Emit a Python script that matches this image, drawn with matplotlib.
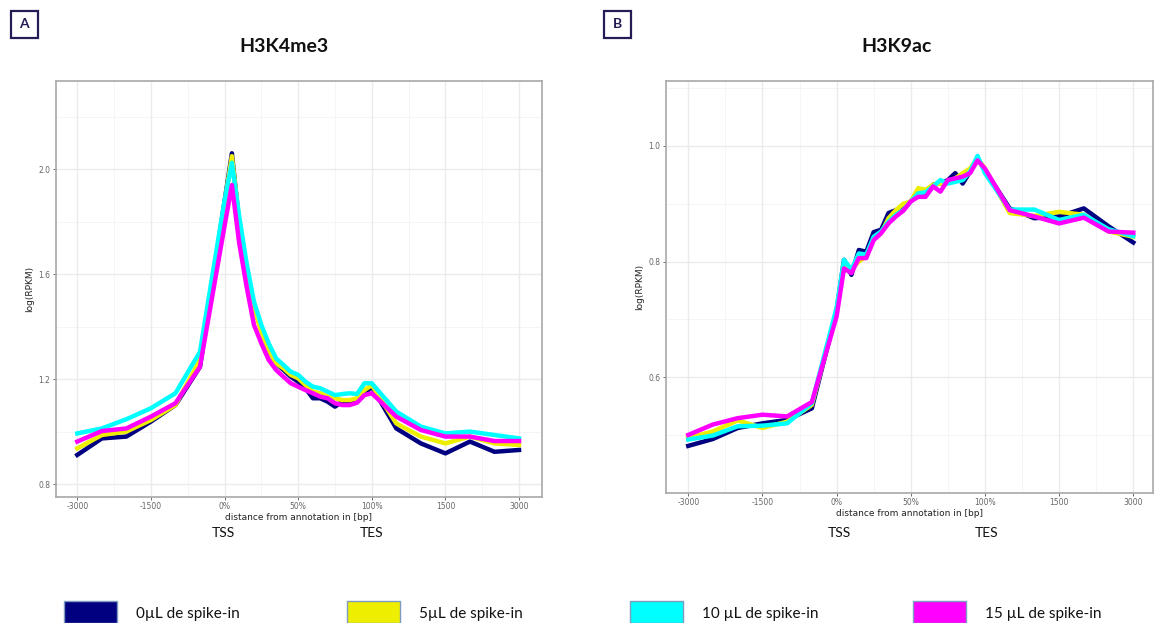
import matplotlib.pyplot as plt
from matplotlib.patches import Rectangle

W, H = 1157, 623

# bin positions in tick units (-3000 .. TSS .. TES .. +3000)
bins = [0, 1/3, 2/3, 1, 4/3, 5/3,
        2.0, 2.1, 2.2, 2.3, 2.4, 2.5, 2.6, 2.7, 2.8, 2.9, 3.0,
        3.1, 3.2, 3.3, 3.4, 3.5, 3.6, 3.7, 3.8, 3.9, 4.0,
        13/3, 14/3, 5, 16/3, 17/3, 6]
tick_pos = [0, 1, 2, 3, 4, 5, 6]
tick_labels = ["-3000", "-1500", "0%", "50%", "100%", "1500", "3000"]

samples = ["0µL de spike-in", "5µL de spike-in", "10 µL de spike-in", "15 µL de spike-in"]
colors = ["#000080", "#EEEE00", "#00FFFF", "#FF00FF"]

# H3K4me3
k4_0 = [0.912, 0.975, 0.982, 1.039, 1.102, 1.248,
        1.877, 2.061, 1.794, 1.617, 1.477, 1.388, 1.312, 1.261, 1.236, 1.210, 1.191,
        1.166, 1.128, 1.128, 1.115, 1.096, 1.115, 1.115, 1.121, 1.147, 1.172,
        1.013, 0.956, 0.918, 0.963, 0.924, 0.931]
k4_5 = [0.937, 0.988, 1.001, 1.045, 1.102, 1.274,
        1.870, 2.050, 1.800, 1.617, 1.477, 1.380, 1.312, 1.261, 1.242, 1.217, 1.204,
        1.178, 1.153, 1.147, 1.134, 1.128, 1.121, 1.121, 1.128, 1.159, 1.178,
        1.032, 0.982, 0.956, 0.982, 0.956, 0.950]
k4_10 = [0.994, 1.013, 1.048, 1.090, 1.147, 1.305,
         1.880, 2.025, 1.820, 1.642, 1.496, 1.407, 1.337, 1.280, 1.255, 1.229, 1.217,
         1.191, 1.172, 1.166, 1.153, 1.140, 1.144, 1.147, 1.144, 1.185, 1.185,
         1.077, 1.020, 0.994, 1.001, 0.988, 0.975]
k4_15 = [0.963, 1.003, 1.013, 1.058, 1.109, 1.248,
         1.784, 1.940, 1.718, 1.553, 1.407, 1.337, 1.274, 1.236, 1.210, 1.185, 1.172,
         1.159, 1.147, 1.134, 1.128, 1.109, 1.102, 1.102, 1.111, 1.140, 1.147,
         1.058, 1.007, 0.982, 0.982, 0.965, 0.965]

# H3K9ac
k9_0 = [0.481, 0.493, 0.512, 0.520, 0.526, 0.546,
        0.715, 0.803, 0.777, 0.820, 0.817, 0.851, 0.855, 0.884, 0.889, 0.895, 0.904,
        0.918, 0.915, 0.933, 0.935, 0.941, 0.953, 0.935, 0.956, 0.979, 0.958,
        0.892, 0.875, 0.878, 0.892, 0.861, 0.833]
k9_5 = [0.495, 0.506, 0.525, 0.512, 0.523, 0.552,
        0.715, 0.794, 0.788, 0.800, 0.809, 0.840, 0.849, 0.875, 0.889, 0.900, 0.904,
        0.927, 0.924, 0.933, 0.935, 0.938, 0.944, 0.953, 0.961, 0.979, 0.961,
        0.884, 0.879, 0.886, 0.881, 0.852, 0.843]
k9_10 = [0.492, 0.499, 0.515, 0.516, 0.520, 0.555,
         0.720, 0.803, 0.786, 0.814, 0.812, 0.843, 0.852, 0.869, 0.881, 0.889, 0.904,
         0.918, 0.920, 0.930, 0.941, 0.935, 0.938, 0.941, 0.956, 0.983, 0.953,
         0.890, 0.890, 0.872, 0.881, 0.856, 0.844]
k9_15 = [0.500, 0.518, 0.529, 0.535, 0.532, 0.557,
         0.705, 0.788, 0.780, 0.806, 0.806, 0.837, 0.849, 0.866, 0.878, 0.888, 0.904,
         0.912, 0.912, 0.930, 0.921, 0.941, 0.944, 0.947, 0.953, 0.975, 0.961,
         0.889, 0.878, 0.866, 0.876, 0.852, 0.850]


def fx(x):
    return x / W


def fy(y):
    return 1 - y / H


fig = plt.figure(figsize=(W / 100, H / 100), dpi=100)
fig.patch.set_facecolor("white")


def panel(rect, series, ylim, yticks, yminor, xlim):
    ax = fig.add_axes(rect)
    ax.set_xlim(*xlim)
    ax.set_ylim(*ylim)
    for v in [0.5, 1.5, 2.5, 3.5, 4.5, 5.5]:
        ax.axvline(v, color="#f4f4f4", lw=0.6, zorder=0)
    for v in yminor:
        ax.axhline(v, color="#f4f4f4", lw=0.6, zorder=0)
    for v in tick_pos:
        ax.axvline(v, color="#ebebeb", lw=1.0, zorder=0)
    for v in yticks:
        ax.axhline(v, color="#ebebeb", lw=1.0, zorder=0)
    for vals, c in zip(series, colors):
        ax.plot(bins, vals, color=c, lw=3.2, zorder=3)
    ax.set_xticks(tick_pos)
    ax.set_xticklabels(tick_labels)
    ax.set_yticks(yticks)
    ax.set_yticklabels([f"{v:.1f}" for v in yticks])
    ax.tick_params(labelsize=5.5, labelcolor="#666666", color="#555555",
                   length=2.5, width=0.6, pad=1.5)
    for s in ax.spines.values():
        s.set_color("#a8a8a8")
        s.set_linewidth(1.2)
    ax.set_ylabel("log(RPKM)", fontsize=6.5, color="#222222", labelpad=3)
    ax.set_xlabel("distance from annotation in [bp]", fontsize=6.5,
                  color="#222222", labelpad=1)
    return ax


axA = panel([55.7 / W, (H - 496.7) / H, 486 / W, 416 / H],
            [k4_0, k4_5, k4_10, k4_15], (0.753, 2.3375),
            [0.8, 1.2, 1.6, 2.0], [1.0, 1.4, 1.8, 2.2], (-0.293, 6.308))
axB = panel([666 / W, (H - 492.7) / H, 487.3 / W, 412 / H],
            [k9_0, k9_5, k9_10, k9_15], (0.40, 1.113),
            [0.6, 0.8, 1.0], [0.5, 0.7, 0.9, 1.1], (-0.30, 6.27))

font = ["Lato", "DejaVu Sans"]

# titles and panel letters
fig.text(fx(284), fy(47), "H3K4me3", fontsize=14, fontweight="bold",
         family=font, ha="center", va="center", color="#111111")
fig.text(fx(897), fy(47), "H3K9ac", fontsize=14, fontweight="bold",
         family=font, ha="center", va="center", color="#111111")
for x0, letter in [(10.7, "A"), (603.5, "B")]:
    fig.patches.append(Rectangle((fx(x0), fy(38.3)), 27 / W, 27.6 / H,
                                 transform=fig.transFigure, fill=False,
                                 edgecolor="#231c55", lw=1.6))
    fig.text(fx(x0 + 13.5), fy(24.5), letter, fontsize=10, fontweight="bold",
             family=font, ha="center", va="center", color="#231c55")

# TSS / TES marks
for x, lab in [(223, "TSS"), (371.5, "TES"), (839, "TSS"), (987, "TES")]:
    fig.text(fx(x), fy(533), lab, fontsize=10, family=font,
             ha="center", va="center", color="#111111")

# legend
for i, (lab, c) in enumerate(zip(samples, colors)):
    x0 = 64 + i * 283
    fig.patches.append(Rectangle((fx(x0), 0), 53 / W, 22 / H,
                                 transform=fig.transFigure, facecolor=c,
                                 edgecolor="#7f9cc0", lw=1))
    fig.text(fx(x0 + 72), fy(614), lab, fontsize=11, family=font,
             ha="left", va="center", color="#111111")

fig.savefig("out.png", dpi=100)
